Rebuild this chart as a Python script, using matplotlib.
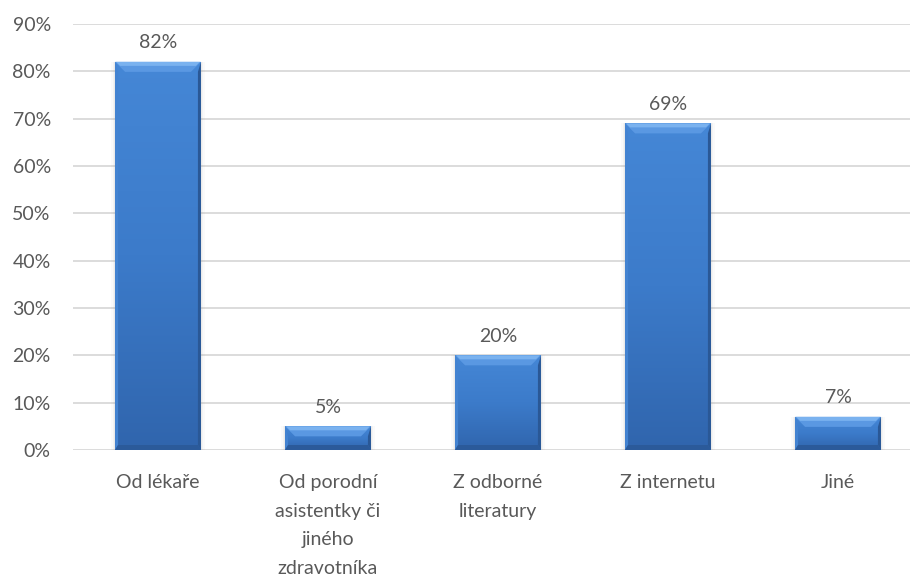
import numpy as np
import matplotlib
matplotlib.use("Agg")
import matplotlib.pyplot as plt
from matplotlib.patches import Polygon, Rectangle
from matplotlib.transforms import IdentityTransform
from matplotlib.colors import LinearSegmentedColormap

categories = ["Od lékaře", "Od porodní\nasistentky či\njiného\nzdravotníka",
              "Z odborné\nliteratury", "Z internetu", "Jiné"]
values = [82, 5, 20, 69, 7]
yticks = [0, 10, 20, 30, 40, 50, 60, 70, 80, 90]

TEXT = "#595959"
FONT = "Lato"
FS = 14
DPI = 100

fig = plt.figure(figsize=(9.1, 5.76), dpi=DPI)
W, H = 910, 576
ax = fig.add_axes([73 / W, 126 / H, 850 / W, 426 / H])
ax.set_xlim(-0.5, len(values) - 0.5)
ax.set_ylim(0, 90)

for s in ax.spines.values():
    s.set_visible(False)
ax.set_yticks(yticks)
ax.set_yticklabels([f"{t}%" for t in yticks], fontfamily=FONT, fontsize=FS, color=TEXT)
ax.tick_params(axis="y", length=0, pad=16)
ax.set_xticks(range(len(categories)))
ax.set_xticklabels(categories, fontfamily=FONT, fontsize=FS, color=TEXT, linespacing=1.82)
ax.tick_params(axis="x", length=0, pad=17.5)
ax.yaxis.grid(True, color="#D9D9D9", linewidth=1.3)
ax.set_axisbelow(True)

width = 0.505
bars = ax.bar(range(len(values)), values, width=width, color="none", zorder=2)

cmap = LinearSegmentedColormap.from_list("face", ["#3065AD", "#3C7BCA", "#4587D6"])
grad = np.linspace(0, 1, 256).reshape(-1, 1)

fig.canvas.draw()
to_px = ax.transData
bevel_top = 10
bevel_side = 3
bevel_bot = 5

for bar, v in zip(bars, values):
    x0 = bar.get_x()
    x1 = x0 + bar.get_width()
    (px0, py0), (px1, py1) = to_px.transform([(x0, 0), (x1, v)])
    # soft shadow around the bar
    for k, a in [(4, 0.035), (2.5, 0.05), (1.2, 0.07)]:
        ax.add_patch(Rectangle((px0 - k, py0 - k), px1 - px0 + 2 * k, py1 - py0 + k,
                               transform=IdentityTransform(), facecolor="#7F7F7F",
                               alpha=a, edgecolor="none", zorder=1.5))
    im = ax.imshow(grad, extent=(x0, x1, 0, v), origin="lower", cmap=cmap,
                   aspect="auto", zorder=2.2, interpolation="bilinear")
    im.set_clip_path(Rectangle((x0, 0), x1 - x0, v, transform=ax.transData))
    t, sd, b = bevel_top, bevel_side, bevel_bot
    polys = [
        # left bevel
        ([(px0, py1), (px0 + sd, py1 - t), (px0 + sd, py0 + b), (px0, py0)], "#4383D1"),
        # right bevel
        ([(px1, py1), (px1 - sd, py1 - t), (px1 - sd, py0 + b), (px1, py0)], "#2A5896"),
        # bottom bevel
        ([(px0, py0), (px0 + sd, py0 + b), (px1 - sd, py0 + b), (px1, py0)], "#2B5A9A"),
        # top bevel
        ([(px0, py1), (px1, py1), (px1 - t, py1 - t), (px0 + t, py1 - t)], "#5A98E2"),
        ([(px0 + 1, py1), (px1 - 1, py1), (px1 - 5, py1 - 4), (px0 + 5, py1 - 4)], "#7AB2EF"),
    ]
    for pts, c in polys:
        ax.add_patch(Polygon(pts, closed=True, transform=IdentityTransform(),
                             facecolor=c, edgecolor="none", zorder=2.5))
    ax.annotate(f"{v}%", (bar.get_x() + bar.get_width() / 2, v), xytext=(0, 7.5),
                textcoords="offset points", ha="center", va="bottom",
                fontfamily=FONT, fontsize=FS, color=TEXT, zorder=3)

ax.set_xlim(-0.5, len(values) - 0.5)
ax.set_ylim(0, 90)
fig.savefig("out.png", dpi=DPI, facecolor="white")
